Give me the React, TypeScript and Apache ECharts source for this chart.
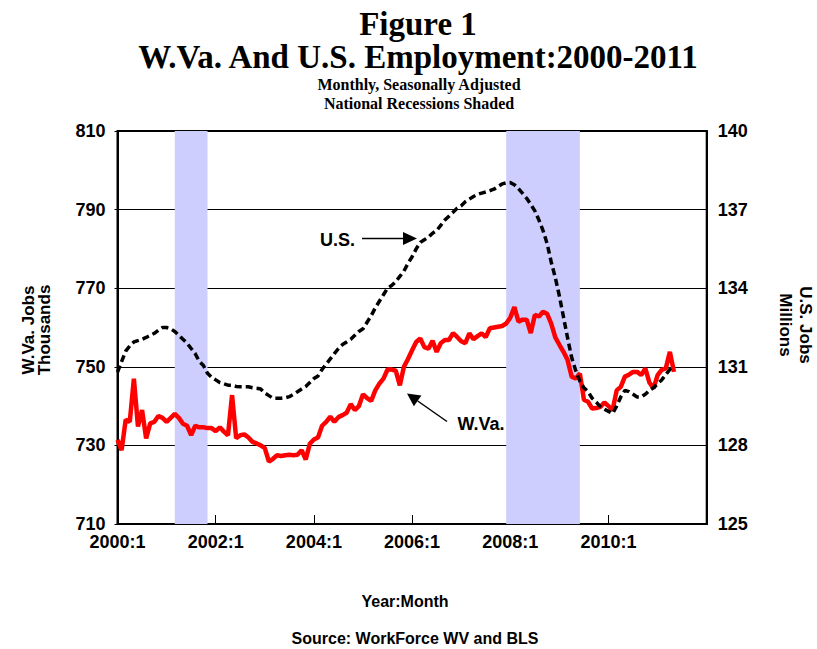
import React, { useEffect, useRef } from "react";
import * as echarts from "echarts";

// Month categories 2000:1 .. 2012:1
const months: string[] = [];
for (let y = 2000; y <= 2012; y++) {
  for (let m = 1; m <= 12; m++) {
    if (y === 2012 && m > 1) break;
    months.push(`${y}:${m}`);
  }
}

// W.Va. jobs, thousands (2000:1 .. 2011:5)
const wvaJobs = [
  731.4, 728.8, 736.5, 736.0, 747.0, 734.8, 739.0, 731.8, 735.6, 736.0,
  737.5, 737.0, 736.0, 737.0, 738.0, 737.0, 735.5, 735.0, 732.6, 735.0,
  734.6, 734.6, 734.4, 734.4, 733.6, 734.6, 733.5, 732.6, 742.8, 731.8,
  732.6, 732.8, 732.0, 730.9, 730.5, 730.0, 729.3, 725.9, 726.6, 727.5,
  727.3, 727.5, 727.6, 727.5, 727.6, 728.8, 726.4, 730.4, 731.5, 732.0,
  735.0, 736.0, 737.3, 736.0, 737.2, 737.7, 738.3, 740.5, 739.0, 740.0,
  743.0, 742.0, 741.3, 744.0, 745.7, 747.0, 749.3, 749.3, 749.0, 745.3,
  750.0, 752.0, 754.2, 756.3, 757.2, 755.0, 754.6, 756.6, 753.8, 756.0,
  756.8, 756.8, 758.6, 757.6, 756.5, 756.0, 758.5, 757.0, 757.8, 758.5,
  757.6, 759.8, 760.0, 760.2, 760.4, 761.0, 762.5, 765.2, 761.5, 762.0,
  762.0, 758.6, 763.2, 762.8, 764.0, 763.5, 761.0, 757.5, 755.6, 753.8,
  751.7, 747.5, 747.0, 748.3, 741.6, 741.1, 739.4, 739.5, 739.8, 740.9,
  740.0, 739.0, 744.0, 744.9, 747.5, 748.0, 748.7, 748.7, 747.9, 749.6,
  746.0, 744.5, 747.9, 749.2, 749.6, 753.8, 748.7,
];

// U.S. jobs, millions (2000:1 .. 2011:5)
const usJobs = [
  130.8, 131.2, 131.6, 131.8, 131.95, 132.0, 132.05, 132.12, 132.2, 132.28,
  132.4, 132.5, 132.5, 132.45, 132.35, 132.2, 132.05, 131.9, 131.7, 131.5,
  131.2, 131.05, 130.75, 130.6, 130.5, 130.4, 130.35, 130.3, 130.3, 130.25,
  130.24, 130.24, 130.24, 130.2, 130.18, 130.15, 130.0, 129.9, 129.8, 129.8,
  129.8, 129.82, 129.86, 129.95, 130.05, 130.15, 130.25, 130.4, 130.55, 130.65,
  130.9, 131.1, 131.3, 131.5, 131.7, 131.85, 131.95, 132.05, 132.2, 132.35,
  132.45, 132.7, 132.95, 133.25, 133.5, 133.75, 134.0, 134.1, 134.25, 134.45,
  134.65, 134.95, 135.2, 135.5, 135.75, 135.85, 135.95, 136.1, 136.2, 136.4,
  136.6, 136.75, 136.9, 137.05, 137.15, 137.3, 137.4, 137.5, 137.58, 137.63,
  137.67, 137.72, 137.78, 137.88, 137.98, 138.02, 138.03, 137.95, 137.8, 137.62,
  137.43, 137.2, 136.95, 136.6, 136.2, 135.7, 135.0, 134.4, 133.7, 132.9,
  132.1, 131.35, 130.85, 130.45, 130.2, 130.05, 129.8, 129.65, 129.48, 129.38,
  129.3, 129.22, 129.5, 129.85, 130.1, 130.05, 129.95, 129.85, 129.85, 129.95,
  130.1, 130.2, 130.35, 130.5, 130.7, 130.9, 131.05,
];

// National recessions (start, end month)
const recessions: [string, string][] = [
  ["2001:3", "2001:11"],
  ["2007:12", "2009:6"],
];

const leftMin = 710;
const leftMax = 810;
const leftStep = 20;
const rightMin = 125;
const rightMax = 140;
const rightStep = 3;

const SANS = '"Liberation Sans", Arial, sans-serif';
const SERIF = '"Liberation Serif", "Times New Roman", serif';

function txt(text: string, x: number, y: number, size: number, family: string, rotation = 0) {
  return {
    type: "text",
    x,
    y,
    rotation,
    silent: true,
    style: {
      text,
      fill: "#000",
      fontSize: size,
      fontWeight: "bold",
      fontFamily: family,
      align: "center",
      verticalAlign: "middle",
    },
  };
}

export default function App() {
  const ref = useRef<HTMLDivElement>(null);

  useEffect(() => {
    if (!ref.current) return;
    const chart = echarts.init(ref.current, null, { renderer: "svg" });

    const labelStyle = {
      color: "#000",
      fontWeight: "bold" as const,
      fontSize: 18,
      fontFamily: SANS,
    };

    const option: any = {
      animation: false,
      backgroundColor: "#fff",
      grid: {
        left: 117.5,
        right: 110.3,
        top: 131,
        bottom: 125,
        show: true,
        borderColor: "#000",
        borderWidth: 2,
        backgroundColor: "transparent",
        containLabel: false,
      },
      xAxis: {
        type: "category",
        data: months,
        boundaryGap: false,
        axisLine: { show: true, lineStyle: { color: "#000", width: 2 } },
        axisTick: {
          show: true,
          inside: true,
          length: 9,
          interval: (i: number) => i % 24 === 0 && i > 0 && i < 144,
          lineStyle: { color: "#000", width: 1 },
        },
        axisLabel: {
          ...labelStyle,
          interval: (i: number) => i % 24 === 0 && i < 144,
          margin: 9,
        },
        splitLine: { show: false },
      },
      yAxis: [
        {
          type: "value",
          position: "left",
          min: leftMin,
          max: leftMax,
          interval: leftStep,
          axisLine: { show: true, lineStyle: { color: "#000", width: 2 } },
          axisTick: { show: true, inside: false, length: 3, lineStyle: { color: "#000", width: 1 } },
          axisLabel: { ...labelStyle, margin: 12 },
          splitLine: { show: true, lineStyle: { color: "#000", width: 1 } },
        },
        {
          type: "value",
          position: "right",
          min: rightMin,
          max: rightMax,
          interval: rightStep,
          axisLine: { show: true, lineStyle: { color: "#000", width: 2 } },
          axisTick: { show: false },
          axisLabel: { ...labelStyle, margin: 11 },
          splitLine: { show: false },
        },
      ],
      series: [
        {
          name: "Recessions",
          type: "line",
          data: [],
          z: -1,
          silent: true,
          markArea: {
            silent: true,
            itemStyle: { color: "#cdcdfe" },
            data: recessions.map(([a, b]) => [{ xAxis: a }, { xAxis: b }]),
          },
        },
        {
          name: "W.Va.",
          type: "line",
          data: wvaJobs,
          yAxisIndex: 0,
          symbol: "none",
          showSymbol: false,
          z: 3,
          lineStyle: { color: "#ff0000", width: 4.5 },
        },
        {
          name: "U.S.",
          type: "line",
          data: usJobs,
          yAxisIndex: 1,
          symbol: "none",
          showSymbol: false,
          z: 4,
          lineStyle: { color: "#000", width: 3.5, type: [7, 4] },
        },
      ],
      graphic: [
        txt("Figure 1", 418, 23.5, 33, SERIF),
        txt("W.Va. And U.S. Employment:2000-2011", 418, 57, 33, SERIF),
        txt("Monthly, Seasonally Adjusted", 419, 84.5, 16, SERIF),
        txt("National Recessions Shaded", 419, 103.5, 16, SERIF),
        txt("Year:Month", 405, 601.7, 16, SANS),
        txt("Source: WorkForce WV and BLS", 415, 638.3, 16, SANS),
        txt("W.Va. Jobs", 28, 330, 17, SANS, Math.PI / 2),
        txt("Thousands", 44, 330, 17, SANS, Math.PI / 2),
        txt("U.S. Jobs", 805, 325, 17, SANS, -Math.PI / 2),
        txt("Millions", 785, 325, 17, SANS, -Math.PI / 2),
        txt("U.S.", 337.5, 240.4, 18, SANS),
        txt("W.Va.", 481, 424.4, 18, SANS),
        {
          type: "line",
          silent: true,
          shape: { x1: 362, y1: 238.5, x2: 405, y2: 238.5 },
          style: { stroke: "#000", lineWidth: 1.5 },
        },
        {
          type: "polygon",
          silent: true,
          shape: { points: [[417, 238.5], [403, 232], [403, 245]] },
          style: { fill: "#000" },
        },
        {
          type: "line",
          silent: true,
          shape: { x1: 447, y1: 421.5, x2: 417.7, y2: 401 },
          style: { stroke: "#000", lineWidth: 1.5 },
        },
        {
          type: "polygon",
          silent: true,
          shape: { points: [[407, 393.5], [421.4, 395.6], [413.9, 406.3]] },
          style: { fill: "#000" },
        },
      ],
    };

    chart.setOption(option);
    return () => chart.dispose();
  }, []);

  return (
    <div
      ref={ref}
      style={{ position: "fixed", left: 0, top: 0, width: 817, height: 649, background: "#fff" }}
    />
  );
}
